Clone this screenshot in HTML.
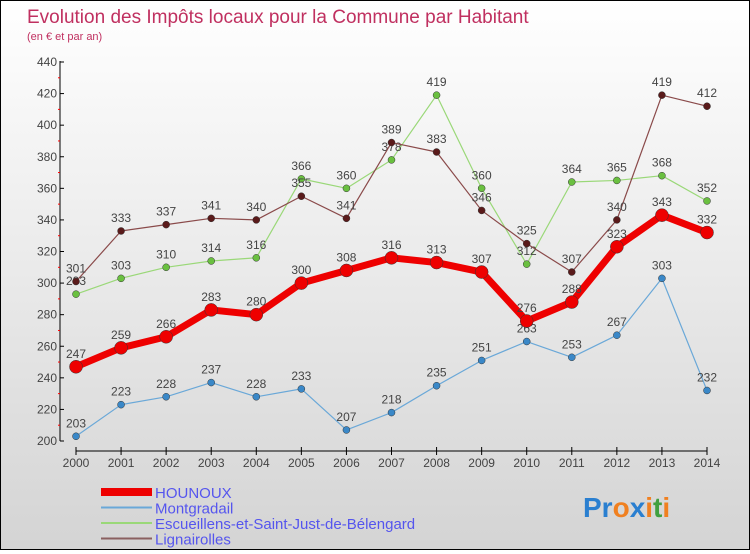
<!DOCTYPE html>
<html><head><meta charset="utf-8"><style>
body{margin:0;width:750px;height:550px;overflow:hidden}
#c{position:relative;width:748px;height:548px;border:1px solid #000;background:linear-gradient(#fff,#d4d4d4);font-family:"Liberation Sans",sans-serif}
</style></head><body>
<div id="c">
<svg id="s" width="748" height="548">
<text x="26" y="22" font-size="19" fill="#c03060">Evolution des Impôts locaux pour la Commune par Habitant</text>
<text x="26" y="39" font-size="11" fill="#c03060">(en € et par an)</text>
<g id="axes"></g><g id="series"></g><g id="legend"></g>
<g font-size="28" font-weight="bold" font-family="Liberation Sans,sans-serif">
<text x="582" y="516"><tspan fill="#2a7fd0">Pr</tspan><tspan fill="#f08020">o</tspan><tspan fill="#2a7fd0">x</tspan><tspan fill="#f08020">i</tspan><tspan fill="#40a040">t</tspan><tspan fill="#f08020">i</tspan></text></g>
</svg></div>
<script>
const years=[2000,2001,2002,2003,2004,2005,2006,2007,2008,2009,2010,2011,2012,2013,2014];
const hounoux=[247,259,266,283,280,300,308,316,313,307,276,288,323,343,332];
const montgradail=[203,223,228,237,228,233,207,218,235,251,263,253,267,303,232];
const escueillens=[293,303,310,314,316,366,360,378,419,360,312,364,365,368,352];
const lignairolles=[301,333,337,341,340,355,341,389,383,346,325,307,340,419,412];
const yTicks=[200,220,240,260,280,300,320,340,360,380,400,420,440];
const NS='http://www.w3.org/2000/svg';
const X=i=>75+i*(631/14);
const Y=v=>440-(v-200)*(379/240);
function mk(t,a,p){const e=document.createElementNS(NS,t);for(const k in a)e.setAttribute(k,a[k]);p.appendChild(e);return e;}
const ax=document.getElementById('axes');
let yl=mk('line',{x1:59,y1:60,x2:59,y2:440,stroke:'#000','stroke-width':1},ax);


let xl=mk('line',{x1:75,y1:450,x2:706,y2:450,stroke:'#000','stroke-width':1},ax);


yTicks.forEach((v,i)=>{
 mk('line',{x1:59,x2:63,y1:Y(v),y2:Y(v),stroke:'#000'},ax);
 if(i<yTicks.length-1)mk('line',{x1:57,x2:59,y1:Y(v+10),y2:Y(v+10),stroke:'#f00'},ax);
 const t=mk('text',{x:56,y:Y(v)+4,'font-size':12,fill:'#444','text-anchor':'end'},ax);t.textContent=v;
 
 
});
years.forEach((y,i)=>{
 mk('line',{x1:X(i),x2:X(i),y1:446,y2:454,stroke:'#000'},ax);
 const t=mk('text',{x:X(i),y:466,'font-size':12,fill:'#444','text-anchor':'middle'},ax);t.textContent=y;
 
 
});
const sg=document.getElementById('series');
function series(data,name,color,dot,w,r){
 const g=mk('g',{},sg);
 
 
 const pl=mk('polyline',{points:data.map((v,i)=>X(i)+','+Y(v)).join(' '),fill:'none',stroke:color,'stroke-width':w,'stroke-linejoin':'round'},g);
 
 
 data.forEach((v,i)=>{
  const c=mk('circle',{cx:X(i),cy:Y(v),r:r,fill:dot,stroke:'#333','stroke-width':0.5},g);
  
  
  const t=mk('text',{x:X(i),y:Y(v)-9,'font-size':12,fill:'#444','text-anchor':'middle'},g);t.textContent=v;
  
  
 });
}
series(montgradail,'montgradail','#6aa8d8','#3a88c8',1.2,3.5);
series(escueillens,'escueillens','#9ad878','#6ac040',1.2,3.5);
series(lignairolles,'lignairolles','#8a4a4a','#5a1a1a',1.2,3.5);
series(hounoux,'hounoux','#ee0000','#ee0000',7,6.5);
const lg=document.getElementById('legend');
const leg=[['HOUNOUX','#ee0000',8],['Montgradail','#6aa8d8',2],['Escueillens-et-Saint-Just-de-Bélengard','#9ad878',2],['Lignairolles','#8a6060',2]];
leg.forEach((l,i)=>{
 const y=491+i*15.5;
 const g=mk('g',{},lg);
 
 
 mk('line',{x1:100,x2:151,y1:y,y2:y,stroke:l[1],'stroke-width':l[2]},g);
 const t=mk('text',{x:154,y:y+6,'font-size':15,fill:'#5555ee'},g);t.textContent=l[0];
});
</script>
</body></html>
